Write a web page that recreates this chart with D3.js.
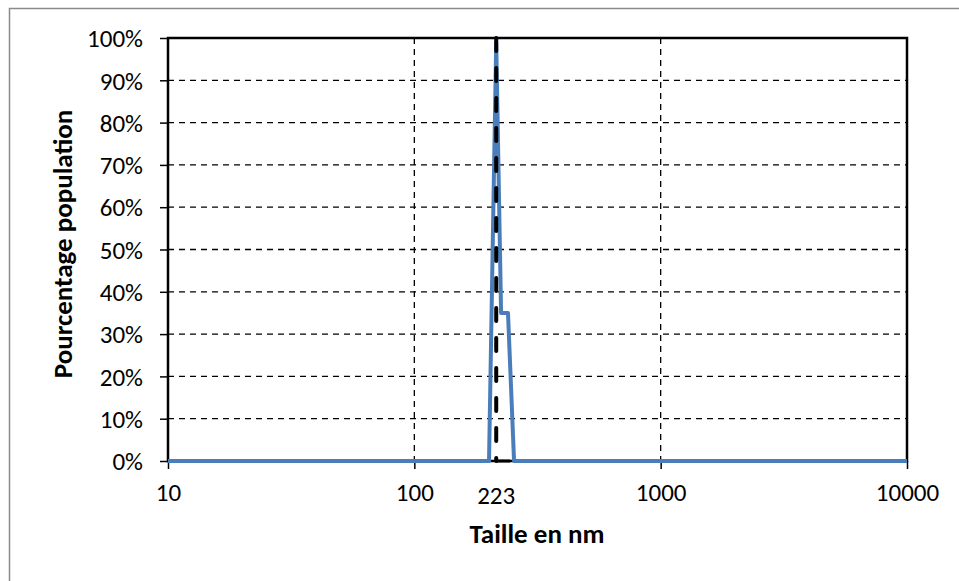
<!DOCTYPE html>
<html><head><meta charset="utf-8">
<script src="https://cdn.jsdelivr.net/npm/d3@7"></script>
<style>
html,body{margin:0;padding:0;background:#fff;}
svg text{font-family:Carlito,Calibri,Lato,"Open Sans",sans-serif;fill:#000;}
</style></head>
<body><svg id="c" width="959" height="581"></svg>
<script>
// ---- data ----
const sizes      = [10, 201, 215, 225, 240, 254, 10000];      // nm
const population = [0, 0, 0.99, 0.35, 0.35, 0, 0];           // fraction
const markerSize = [215, 215];          // dashed reference line position (nm)
const markerPct  = [1, 0];
const baseSeg    = [215, 245];          // small black baseline segment (nm)
const xTickValues = [10, 100, 1000, 10000];
const xTickLabels = ["10", "100", "1000", "10000"];
const markerLabel = "223";
const yTickValues = [0, 0.1, 0.2, 0.3, 0.4, 0.5, 0.6, 0.7, 0.8, 0.9, 1.0];

// ---- layout ----
const svg = d3.select("#c");
const L = 168, R = 907, T = 38, B = 461;
const x = d3.scaleLog().domain([10, 10000]).range([L, R]);
const y = d3.scaleLinear().domain([0, 1]).range([B, T]);
const tickFont = "25px";

// outer frame
svg.append("rect").attr("x", 9.5).attr("y", 8.5).attr("width", 1000).attr("height", 1000)
  .attr("fill", "none").attr("stroke", "#8a8a8a").attr("stroke-width", 1.5);

// gridlines
const g = svg.append("g");
g.selectAll(".hg").data(yTickValues.filter(v => v > 0 && v < 1)).enter().append("line")
  .attr("x1", L).attr("x2", R).attr("y1", d => y(d)).attr("y2", d => y(d))
  .attr("stroke", "#000").attr("stroke-width", 1.3).attr("stroke-dasharray", "6,5");
g.selectAll(".vg").data(xTickValues.filter(v => v > 10 && v < 10000)).enter().append("line")
  .attr("x1", d => x(d)).attr("x2", d => x(d)).attr("y1", T).attr("y2", B)
  .attr("stroke", "#000").attr("stroke-width", 1.3).attr("stroke-dasharray", "6,5");

// y axis
const yAxis = d3.axisLeft(y).tickValues(yTickValues).tickFormat(d3.format(".0%")).tickSize(8).tickPadding(17);
const ya = svg.append("g").attr("transform", `translate(${L},0)`).call(yAxis);
ya.select(".domain").remove();
ya.selectAll("line").attr("stroke", "#000").attr("stroke-width", 1.5);
ya.selectAll("text").style("font-size", tickFont).attr("dy", "0.35em");

// x axis
const xAxis = d3.axisBottom(x).tickValues(xTickValues).tickFormat((d, i) => xTickLabels[i]).tickSize(8).tickPadding(14);
const xa = svg.append("g").attr("transform", `translate(0,${B})`).call(xAxis);
xa.select(".domain").remove();
xa.selectAll("line").attr("stroke", "#000").attr("stroke-width", 1.5);
xa.selectAll("text").style("font-size", tickFont);
svg.append("text").attr("x", x(markerSize[0])).attr("y", B + 43)
  .attr("text-anchor", "middle").style("font-size", tickFont).text(markerLabel);

// plot border
svg.append("rect").attr("x", L).attr("y", T).attr("width", R - L).attr("height", B - T)
  .attr("fill", "none").attr("stroke", "#000").attr("stroke-width", 2.5);

// series line
const pts = sizes.map((s, i) => [s, population[i]]);
svg.append("path").datum(pts)
  .attr("d", d3.line().x(d => x(d[0])).y(d => y(d[1])))
  .attr("fill", "none").attr("stroke", "#4A7EBB").attr("stroke-width", 4).attr("stroke-linejoin", "round");

// marker line
svg.append("path").datum(markerSize.map((s, i) => [s, markerPct[i]]))
  .attr("d", d3.line().x(d => x(d[0])).y(d => y(d[1])))
  .attr("fill", "none").attr("stroke", "#000").attr("stroke-width", 4)
  .attr("stroke-dasharray", "13,17").attr("stroke-linecap", "round");
svg.append("line").attr("x1", x(baseSeg[0])).attr("x2", x(baseSeg[1])).attr("y1", y(0)).attr("y2", y(0))
  .attr("stroke", "#000").attr("stroke-width", 3);

// axis titles
svg.append("text").attr("x", 537).attr("y", 543).attr("text-anchor", "middle")
  .style("font-size", "27px").style("font-weight", "bold").text("Taille en nm");
svg.append("text").attr("transform", "translate(72,244) rotate(-90)").attr("text-anchor", "middle")
  .style("font-size", "27px").style("font-weight", "bold").text("Pourcentage population");
</script></body></html>
